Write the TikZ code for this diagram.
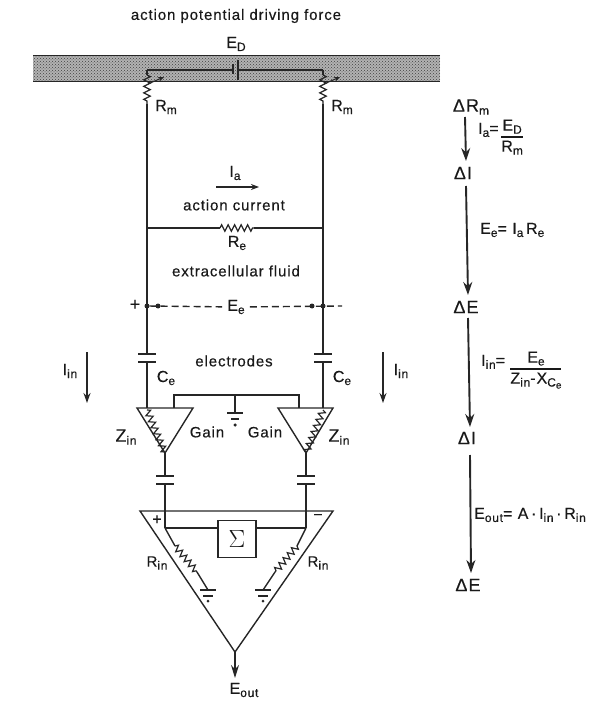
\documentclass[tikz,border=0pt]{standalone}
\usepackage{fontspec}
\setmainfont[LetterSpace=6,FakeBold=0.4]{Liberation Sans}
\usetikzlibrary{arrows.meta,decorations.pathmorphing,patterns}

\newcommand{\lab}[2]{#1\raisebox{-3pt}{\fontsize{12}{12}\selectfont #2}}
\setlength{\arrayrulewidth}{1.2pt}

\tikzset{every node/.style={inner sep=0pt, text=black!90}}

\begin{document}
\begin{tikzpicture}[
			x=1pt, y=-1pt,
			wire/.style={line width=1.4pt, black!85},
			thinwire/.style={line width=1pt, black!85},
			reszig/.style={line width=1.2pt, black!85, decorate, decoration={zigzag, segment length=6.5pt, amplitude=3.2pt}},
			fluxarrow/.style={line width=1.9pt, black!85, -{Stealth[length=13pt,width=9pt]}},
			junction/.style={circle, fill=black!85, minimum size=5pt},
			word/.style={font=\fontsize{15}{15}\selectfont},
			sym/.style={font=\fontsize{16}{16}\selectfont},
			delta/.style={font=\fontsize{18}{18}\selectfont},
			sumbox/.style={draw=black!85, line width=1.2pt, minimum width=38pt, minimum height=37pt, font=\fontsize{24}{24}\selectfont},
			]
			\useasboundingbox (0,0) rectangle (608,708);
			
			% Membrane band
			\fill[gray!60] (33,56) rectangle (440,82);
			\fill[pattern=crosshatch dots, pattern color=black!75] (33,56) rectangle (440,82);
			\draw[thinwire] (33,56) -- (440,56);
			\draw[thinwire] (33,82) -- (440,82);
			
			\node[word] (title) at (236,16) {action potential driving force};
			\node[sym] (ed) at (236,44) {\lab{E}{D}};
			
			% Battery in the membrane
			\coordinate (bat1) at (233,70);
			\coordinate (bat2) at (238,70);
			\draw[wire] (233,64) -- (233,74);
			\draw[wire] (238,60) -- (238,80);
			
			% Both branches: membrane to amplifier
			\foreach \s/\x/\lx in {l/147/165, r/323/341} {
				\coordinate (top\s) at (\x,70);
				\coordinate (rt\s) at (\x,75);
				\coordinate (rb\s) at (\x,104);
				\coordinate (cu\s) at (\x,354);
				\coordinate (cd\s) at (\x,362);
				\coordinate (in\s) at (\x,408);
				\draw[wire] (top\s) -- (rt\s);
				\draw[reszig] (rt\s) -- (rb\s);
				\draw[wire] (rb\s) -- (cu\s);
				\draw[wire] (cd\s) -- (in\s);
				\draw[wire] (\x-9,354) -- (\x+9,354);
				\draw[wire] (\x-9,362) -- (\x+9,362);
				\draw[thinwire, -{Stealth[length=6pt,width=5pt]}] (\x+1,84) -- (\x+17,77);
				\node[sym, anchor=center] (rm\s) at (\lx+1,107) {\lab{R}{m}};
				\node[sym] (ce\s) at (\lx+1,378) {\lab{C}{e}};
			}
			\draw[wire] (topl) -- (bat1);
			\draw[wire] (bat2) -- (topr);
			
			% Action current
			\node[sym] (ia) at (235,173) {\lab{I}{a}};
			\coordinate (ias) at (216,187);
			\coordinate (iae) at (259,187);
			\draw[wire, -{Stealth[length=8pt,width=6pt]}] (ias) -- (iae);
			\node[word] (actcur) at (234,205) {action current};
			
			% Extracellular resistance
			\coordinate (rel) at (147,228);
			\coordinate (rer) at (323,228);
			\coordinate (rea) at (220,228);
			\coordinate (reb) at (254,228);
			\draw[wire] (rel) -- (rea);
			\draw[reszig] (rea) -- (reb);
			\draw[wire] (reb) -- (rer);
			\node[sym] (re) at (237,243) {\lab{R}{e}};
			\node[word] (fluid) at (236,271) {extracellular fluid};
			
			% Extracellular potential
			\node[delta] (plus) at (135,305) {+};
			\node[sym, fill=white, inner xsep=5pt, inner ysep=1pt] (ee) at (236,307) {\lab{E}{e}};
			\foreach \n/\x in {1/147,2/158,3/312,4/323} {
				\node[junction] (j\n) at (\x,306) {};
			}
			\coordinate (eend) at (342,306);
			\draw[wire, dash pattern=on 7pt off 4pt] (j1) -- (ee);
			\draw[wire, dash pattern=on 7pt off 4pt] (ee) -- (eend);
			\node[word] (elec) at (234,361) {electrodes};
			
			% Input current arrows
			\node[sym] (iinl) at (70,371) {\lab{I}{in}};
			\node[sym] (iinr) at (401,371) {\lab{I}{in}};
			\coordinate (al) at (87,352);
			\coordinate (ale) at (87,403);
			\coordinate (ar) at (383,352);
			\coordinate (are) at (383,403);
			\draw[wire, -{Stealth[length=10pt,width=7pt]}] (al) -- (ale);
			\draw[wire, -{Stealth[length=10pt,width=7pt]}] (ar) -- (are);
			
			% Head stage amplifiers
			\foreach \s/\a/\b/\c/\px/\qx in {l/137/193/165/147/174, r/278/333/306/323/299} {
				\coordinate (apex\s) at (\c,453);
				\draw[wire] (\a,408) -- (\b,408) -- (apex\s) -- cycle;
				\draw[reszig] (\px,410) -- (apex\s);
				\coordinate (ocu\s) at (\c,476);
				\coordinate (ocd\s) at (\c,484);
				\coordinate (dif\s) at (\c,528);
				\draw[wire] (apex\s) -- (ocu\s);
				\draw[wire] (ocd\s) -- (dif\s);
				\draw[wire] (\c-9,476) -- (\c+9,476);
				\draw[wire] (\c-9,484) -- (\c+9,484);
				\coordinate (gnd\s) at (\qx,408);
			}
			\node[delta] (zl) at (126,437) {\lab{Z}{in}};
			\node[delta] (zr) at (339,437) {\lab{Z}{in}};
			\node[word] (gl) at (207,432) {Gain};
			\node[word] (gr) at (265,432) {Gain};
			
			% Common ground
			\coordinate (gc) at (174,395);
			\coordinate (gd) at (299,395);
			\coordinate (gm) at (235,395);
			\coordinate (gb) at (235,413);
			\draw[wire] (gndl) -- (gc) -- (gd) -- (gndr);
			\draw[wire] (gm) -- (gb);
			\draw[wire] (227,413) -- (243,413);
			\draw[wire] (231,419) -- (239,419);
			\node[junction, minimum size=3.5pt] (gdot) at (235,425) {};
			
			% Differential amplifier
			\coordinate (apex) at (235,652);
			\draw[wire] (140,511) -- (333,511) -- (apex) -- cycle;
			\node[sym] (pl) at (157,520) {+};
			\node[sym] (mi) at (318,517) {−};
			\node[sumbox] (sum) at (237,539) {$\Sigma$};
			\draw[wire] (difl) -- (sum.west |- difl);
			\draw[wire] (sum.east |- difr) -- (difr);
			
			% Input resistances to ground
			\foreach \s/\sx/\sy/\ex/\ey/\gx in {l/175/546/197/572/208, r/297/546/275/572/263} {
				\coordinate (ra\s) at (\sx,\sy);
				\coordinate (rc\s) at (\ex,\ey);
				\coordinate (rd\s) at (\gx,590);
				\draw[wire] (dif\s) -- (ra\s);
				\draw[reszig] (ra\s) -- (rc\s);
				\draw[wire] (rc\s) -- (rd\s);
				\draw[wire] (\gx-8,590) -- (\gx+8,590);
				\draw[wire] (\gx-5,596) -- (\gx+5,596);
				\node[junction, minimum size=3pt] (dot\s) at (\gx,601) {};
			}
			\node[word] (rinl) at (157,563) {\lab{R}{in}};
			\node[word] (rinr) at (318,563) {\lab{R}{in}};
			
			% Output
			\coordinate (out) at (235,678);
			\draw[wire, -{Stealth[length=13pt,width=8pt]}] (apex) -- (out);
			\node[sym] (eout) at (244,690) {\lab{E}{out}};
			
			% Cascade on the right
			\node[delta] (d1) at (471,107) {Δ\lab{R}{m}};
			\node[delta] (d2) at (463,173) {ΔI};
			\node[delta] (d3) at (466,307) {ΔE};
			\node[delta] (d4) at (467,438) {ΔI};
			\node[delta] (d5) at (468,585) {ΔE};
			\draw[fluxarrow] (465,117) -- (466,161);
			\draw[fluxarrow] (466,186) -- (468,295);
			\draw[fluxarrow] (468,318) -- (470,427);
			\draw[fluxarrow] (470,455) -- (471,573);
			
			% Formulas
			\node[sym, anchor=west] (f1) at (478,138) {\lab{I}{a}=\,\raisebox{-1.0ex}{\begin{tabular}{@{}c@{}}\lab{E}{D}\\[1pt]\hline\rule{0pt}{14pt}\lab{R}{m}\end{tabular}}};
			\node[sym, anchor=west] (f2) at (480,230) {\lab{E}{e}=\ \lab{I}{a}\,\lab{R}{e}};
			\node[sym, anchor=west] (f3) at (481,370) {\lab{I}{in}=\ \raisebox{-1.0ex}{\begin{tabular}{@{}c@{}}\lab{E}{e}\\[1pt]\hline\rule{0pt}{14pt}\lab{Z}{in}-\lab{X}{C\raisebox{-2pt}{\fontsize{10}{10}\selectfont e}}\end{tabular}}};
			\node[sym, anchor=west] (f4) at (474,515) {\lab{E}{out}= A\,·\,\lab{I}{in}\,·\,\lab{R}{in}};
			
		\end{tikzpicture}
\end{document}
